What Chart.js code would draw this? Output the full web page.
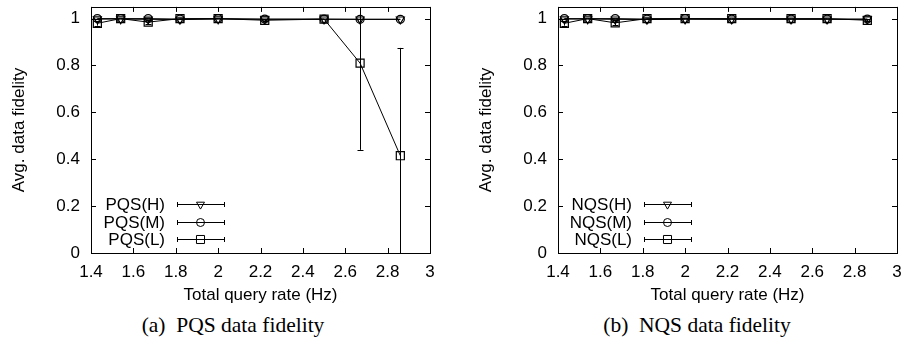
<!DOCTYPE html>
<html>
<head>
<meta charset="utf-8">
<script src="https://cdn.jsdelivr.net/npm/chart.js@4.4.1/dist/chart.umd.min.js"></script>
<style>
  html, body { margin: 0; padding: 0; background: #fff; width: 909px; height: 347px; overflow: hidden; }
  .wrap { position: absolute; top: 0; }
  canvas { display: block; }
  .cap { position: absolute; font-family: 'Liberation Serif', 'Times New Roman', serif; font-size: 21.5px; line-height: 21px; color: #000; text-align: center; white-space: pre; width: 300px; }
</style>
</head>
<body>
<div class="wrap" style="left:0px"><canvas id="c1" width="440" height="310"></canvas></div>
<div class="wrap" style="left:467px"><canvas id="c2" width="440" height="310"></canvas></div>
<div class="cap" style="left:83px; top:315px;">(a)  PQS data fidelity</div>
<div class="cap" style="left:547px; top:315px;">(b)  NQS data fidelity</div>
<script>
// ---- data ----
const rates = [1.43, 1.54, 1.67, 1.82, 2.0, 2.22, 2.5, 2.67, 2.86];

const pqsH = [0.998, 0.998, 0.997, 0.996, 0.998, 0.997, 0.997, 0.997, 0.997];
const pqsM = [1.0, 1.0, 1.0, 0.998, 1.0, 0.998, 0.998, 0.997, 0.997];
const pqsL = [0.98, 1.0, 0.985, 1.0, 1.0, 0.993, 0.998, 0.81, 0.415];
const pqsHErr = [0, 0, 0, 0, 0, 0, 0, 0, 0];
const pqsMErr = [0, 0, 0, 0, 0, 0, 0, 0, 0];
const pqsLErr = [0.01, 0, 0.01, 0, 0, 0.005, 0, 0.37, 0.46];

const nqsH = [0.998, 0.998, 0.997, 0.996, 0.997, 0.997, 0.997, 0.997, 0.997];
const nqsM = [1.0, 1.0, 1.0, 0.998, 1.0, 0.998, 0.998, 0.998, 0.998];
const nqsL = [0.98, 1.0, 0.982, 1.0, 1.0, 1.0, 1.0, 1.0, 0.993];
const nqsHErr = [0, 0, 0, 0, 0, 0, 0, 0, 0];
const nqsMErr = [0, 0, 0, 0, 0, 0, 0, 0, 0];
const nqsLErr = [0.01, 0, 0.01, 0, 0, 0, 0, 0, 0.005];

const xTicks = [1.4, 1.6, 1.8, 2.0, 2.2, 2.4, 2.6, 2.8, 3.0];
const yTicks = [0, 0.2, 0.4, 0.6, 0.8, 1.0];

const seriesStyles = [
  { style: 'triangle', rotation: 180, radius: 4.6 },
  { style: 'circle', rotation: 0, radius: 4 },
  { style: 'rect', rotation: 0, radius: 5.7 }
];

Chart.defaults.font.family = "'Liberation Sans', Arial, Helvetica, sans-serif";
Chart.defaults.font.size = 17;
Chart.defaults.color = '#000';

function drawMarker(ctx, style, rotation, x, y, r) {
  ctx.beginPath();
  if (style === 'circle') {
    ctx.arc(x, y, r, 0, Math.PI * 2);
  } else if (style === 'rect') {
    const s = Math.SQRT1_2 * r;
    ctx.rect(x - s, y - s, 2 * s, 2 * s);
  } else if (style === 'triangle') {
    let rad = rotation * Math.PI / 180;
    ctx.moveTo(x + Math.sin(rad) * r, y - Math.cos(rad) * r);
    rad += 2 * Math.PI / 3;
    ctx.lineTo(x + Math.sin(rad) * r, y - Math.cos(rad) * r);
    rad += 2 * Math.PI / 3;
    ctx.lineTo(x + Math.sin(rad) * r, y - Math.cos(rad) * r);
    ctx.closePath();
  }
  ctx.stroke();
}

const framePlugin = {
  id: 'frameTicks',
  afterDraw(chart) {
    const { ctx, chartArea: a, scales } = chart;
    ctx.save();
    ctx.strokeStyle = '#000';
    ctx.lineWidth = 1;
    const tl = 5;
    ctx.beginPath();
    scales.x.ticks.forEach(t => {
      const px = Math.round(scales.x.getPixelForValue(t.value)) + 0.5;
      ctx.moveTo(px, a.bottom); ctx.lineTo(px, a.bottom - tl);
      ctx.moveTo(px, a.top); ctx.lineTo(px, a.top + tl);
    });
    scales.y.ticks.forEach(t => {
      const py = Math.round(scales.y.getPixelForValue(t.value)) + 0.5;
      ctx.moveTo(a.left, py); ctx.lineTo(a.left + tl, py);
      ctx.moveTo(a.right, py); ctx.lineTo(a.right - tl, py);
    });
    ctx.stroke();
    ctx.strokeRect(Math.round(a.left) + 0.5, Math.round(a.top) + 0.5,
                   Math.round(a.right - a.left), Math.round(a.bottom - a.top));
    ctx.restore();
  }
};

const errPlugin = {
  id: 'errBars',
  beforeDatasetsDraw(chart) {
    const { ctx, chartArea: a, scales } = chart;
    ctx.save();
    ctx.beginPath();
    ctx.rect(a.left, a.top, a.right - a.left, a.bottom - a.top);
    ctx.clip();
    ctx.strokeStyle = '#000';
    ctx.lineWidth = 1;
    chart.data.datasets.forEach(ds => {
      ds.data.forEach((p, i) => {
        const e = ds.err[i];
        if (!e) return;
        const px = Math.round(scales.x.getPixelForValue(p.x)) + 0.5;
        const y1 = scales.y.getPixelForValue(p.y - e);
        const y2 = scales.y.getPixelForValue(p.y + e);
        ctx.beginPath();
        ctx.moveTo(px, y1); ctx.lineTo(px, y2);
        ctx.moveTo(px - 3, Math.round(y1) + 0.5); ctx.lineTo(px + 3, Math.round(y1) + 0.5);
        ctx.moveTo(px - 3, Math.round(y2) + 0.5); ctx.lineTo(px + 3, Math.round(y2) + 0.5);
        ctx.stroke();
      });
    });
    ctx.restore();
  }
};

const keyPlugin = {
  id: 'gnuKey',
  afterDraw(chart) {
    const { ctx, chartArea: a } = chart;
    ctx.save();
    ctx.font = "17px 'Liberation Sans', Arial, sans-serif";
    ctx.fillStyle = '#000';
    ctx.strokeStyle = '#000';
    ctx.lineWidth = 1;
    ctx.textAlign = 'right';
    ctx.textBaseline = 'middle';
    const n = chart.data.datasets.length;
    chart.data.datasets.forEach((ds, i) => {
      const y = Math.round(a.bottom - 13.7 - (n - 1 - i) * 17.6) + 0.5;
      ctx.fillText(ds.label, a.left + 74, y + 1);
      const x1 = Math.round(a.left + 86) + 0.5, x2 = Math.round(a.left + 133) + 0.5;
      ctx.beginPath();
      ctx.moveTo(x1, y); ctx.lineTo(x2, y);
      ctx.moveTo(x1, y - 2.5); ctx.lineTo(x1, y + 2.5);
      ctx.moveTo(x2, y - 2.5); ctx.lineTo(x2, y + 2.5);
      ctx.stroke();
      const st = seriesStyles[i];
      drawMarker(ctx, st.style, st.rotation, a.left + 109.5, y, st.radius);
    });
    ctx.restore();
  }
};

function makeDataset(label, ys, errs, idx) {
  const st = seriesStyles[idx];
  return {
    label,
    data: rates.map((x, i) => ({ x, y: ys[i] })),
    err: errs,
    borderColor: '#000',
    borderWidth: 1,
    backgroundColor: 'rgba(0,0,0,0)',
    pointStyle: st.style,
    pointRotation: st.rotation,
    pointRadius: st.radius,
    pointBorderWidth: 1.2,
    pointBorderColor: '#000',
    pointBackgroundColor: 'rgba(0,0,0,0)',
    tension: 0,
    fill: false
  };
}

function makeChart(id, names, sets) {
  return new Chart(document.getElementById(id), {
    type: 'line',
    data: {
      datasets: sets.map((s, i) => makeDataset(names[i], s[0], s[1], i))
    },
    options: {
      responsive: false,
      animation: false,
      devicePixelRatio: 1,
      layout: { padding: { top: 3.1, right: 10, left: 0, bottom: 0 } },
      plugins: { legend: { display: false }, tooltip: { enabled: false } },
      scales: {
        x: {
          type: 'linear', min: xTicks[0], max: xTicks[xTicks.length - 1], bounds: 'data',
          afterBuildTicks: s => { s.ticks = xTicks.map(v => ({ value: v })); },
          ticks: { padding: 9, maxRotation: 0, autoSkip: false, stepSize: 0.2,
                   callback: v => String(+(+v).toFixed(1)) },
          grid: { display: false, drawTicks: false },
          border: { display: false },
          title: { display: true, text: 'Total query rate (Hz)', padding: { top: 0, bottom: 4 } },
          afterFit: s => { s.height = 57; s.paddingLeft = 0; s.paddingRight = 0; }
        },
        y: {
          type: 'linear', min: 0, max: 1.05, bounds: 'data',
          afterBuildTicks: s => { s.ticks = yTicks.map(v => ({ value: v })); },
          afterDataLimits: s => { s.min = 0; s.max = 1.05; },
          ticks: { padding: 11, autoSkip: false, stepSize: 0.2, includeBounds: false,
                   callback: v => String(+(+v).toFixed(1)) },
          grid: { display: false, drawTicks: false },
          border: { display: false },
          title: { display: true, text: 'Avg. data fidelity', padding: { top: 9, bottom: 0 } },
          afterFit: s => { s.width = 91; s.paddingTop = 0; s.paddingBottom = 0; }
        }
      }
    },
    plugins: [errPlugin, framePlugin, keyPlugin]
  });
}

makeChart('c1', ['PQS(H)', 'PQS(M)', 'PQS(L)'],
  [[pqsH, pqsHErr], [pqsM, pqsMErr], [pqsL, pqsLErr]]);
makeChart('c2', ['NQS(H)', 'NQS(M)', 'NQS(L)'],
  [[nqsH, nqsHErr], [nqsM, nqsMErr], [nqsL, nqsLErr]]);
</script>
</body>
</html>
